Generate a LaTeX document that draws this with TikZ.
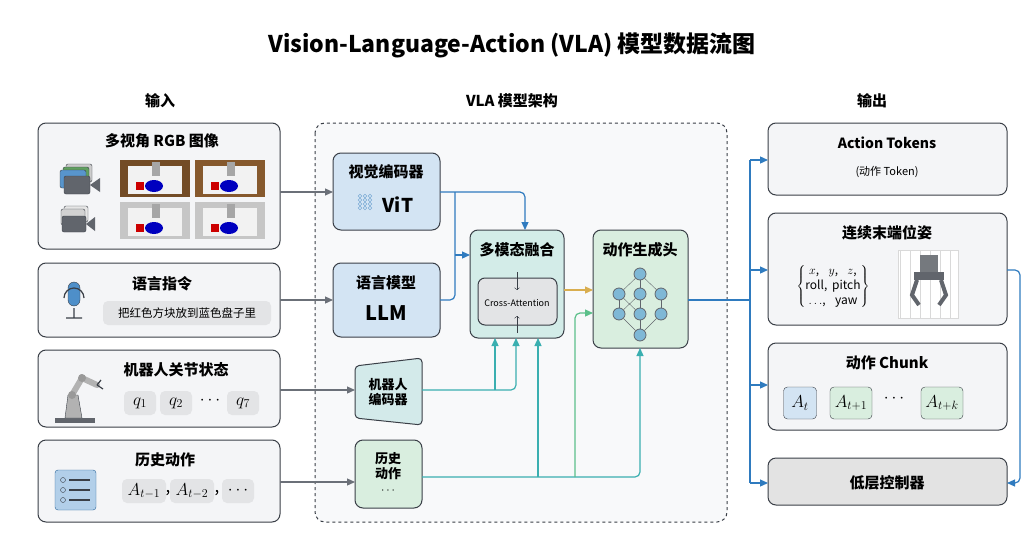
\documentclass[tikz,border=0pt]{standalone}
\usepackage{fontspec}
\setmainfont{Noto Sans CJK SC}
\usetikzlibrary{arrows.meta,calc,shapes.geometric}
\definecolor{bd}{HTML}{3A3F47}
\definecolor{panel}{HTML}{F4F5F7}
\definecolor{bluef}{HTML}{D3E4F3}
\definecolor{greenf}{HTML}{D9EEDF}
\definecolor{tealf}{HTML}{D3ECE8}
\definecolor{pill}{HTML}{E3E4E6}
\definecolor{arb}{HTML}{2F7BBF}
\definecolor{art}{HTML}{3AAFB0}
\definecolor{arg}{HTML}{5CC08A}
\definecolor{argr}{HTML}{6B7078}
\definecolor{gold}{HTML}{D9AE4F}
\definecolor{nnb}{HTML}{7FB8D6}
\begin{document}
\begin{tikzpicture}[x=1pt,y=-1pt,
 box/.style={draw=bd,line width=1pt,rounded corners=8pt,fill=panel},
 bbox/.style={draw=bd,line width=1pt,rounded corners=8pt,fill=bluef},
 gbox/.style={draw=bd,line width=1pt,rounded corners=8pt,fill=greenf},
 pl/.style={fill=pill,rounded corners=5pt,inner sep=3pt,minimum height=24pt},
 mth/.style={font=\fontsize{17}{20}\selectfont},
 ttl/.style={font=\fontsize{15}{18}\selectfont\bfseries},
 grr/.style={draw=argr,line width=1.2pt,-{Triangle[length=8pt,width=7pt]}},
 bl/.style={draw=arb,line width=1.2pt,rounded corners=5pt},
 bla/.style={bl,-{Triangle[length=8pt,width=7pt]}},
 tl/.style={draw=art,line width=1.2pt,rounded corners=5pt},
 gl/.style={draw=arg,line width=1.2pt,rounded corners=5pt},
 ar/.style={-{Triangle[length=8pt,width=7pt]}},
 nn/.style={circle,draw=bd!80,fill=nnb,minimum size=12pt,inner sep=0pt,line width=0.8pt}]
\useasboundingbox[fill=white] (0,0) rectangle (1024,559);
\node[font=\fontsize{23}{27}\selectfont\bfseries] (title) at (512,45) {Vision-Language-Action (VLA) 模型数据流图};
\node[ttl] (h1) at (160,101) {输入};
\node[ttl] (h2) at (512,101) {VLA 模型架构};
\node[ttl] (h3) at (872,101) {输出};
% container
\draw[dashed,line width=1pt,draw=bd,rounded corners=10pt,fill=panel!60] (315,123) rectangle (727,522);
% input boxes
\draw[box] (38,123) rectangle (280,249);
\node[ttl] (t1) at (162,141) {多视角 RGB 图像};
\draw[box] (38,263) rectangle (280,337);
\node[ttl] (t2) at (162,284) {语言指令};
\node[pl,font=\fontsize{11.5}{13}\selectfont,minimum width=168pt] (p2) at (187,313) {把红色方块放到蓝色盘子里};
\draw[box] (38,350) rectangle (280,427);
\node[ttl] (t3) at (176,370) {机器人关节状态};
\node[pl,mth,minimum width=32pt] (q1) at (140,403) {$q_1$};
\node[pl,mth,minimum width=32pt] (q2) at (176,403) {$q_2$};
\node[mth] (qd) at (210,401) {$\cdots$};
\node[pl,mth,minimum width=32pt] (q7) at (243,403) {$q_7$};
\draw[box] (38,440) rectangle (280,522);
\node[ttl] (t4) at (165,460) {历史动作};
\node[pl,mth,minimum width=44pt] (a1) at (144,491) {$A_{t-1}$};
\node[mth] (c1) at (168,493) {,};
\node[pl,mth,minimum width=44pt] (a2) at (192,491) {$A_{t-2}$};
\node[mth] (c2) at (217,493) {,};
\node[pl,mth,minimum width=32pt] (a3) at (238,491) {$\cdots$};
% images
\foreach \x/\y/\c in {120/160/brown!60!black,195/160/brown!70!black,120/202/gray!45,195/202/gray!45}{
 \fill[\c] (\x,\y) rectangle ++(70,37);
 \fill[white!90!gray] (\x+8,\y+6) rectangle ++(54,28);
 \fill[red!80!black] (\x+16,\y+22) rectangle ++(8,8);
 \fill[blue!75!black] (\x+34,\y+26) ellipse (9pt and 6pt);
 \fill[gray!70] (\x+32,\y+2) rectangle ++(8,14);}
% cameras
\foreach \dy/\cc in {-6/gray!40,-3/green!25!gray,0/arb!80}{\fill[\cc,draw=bd,rounded corners=2pt] (60+\dy*-1,170+\dy) rectangle ++(26,18);}
\fill[bd!80,draw=bd,rounded corners=2pt] (64,176) rectangle ++(26,18);
\fill[bd!80] (90,185) -- (100,178) -- (100,192) -- cycle;
\foreach \dy/\cc in {-6/gray!20,-3/gray!35}{\fill[\cc,draw=bd,rounded corners=2pt] (58-\dy,212+\dy) rectangle ++(24,16);}
\fill[bd!80,draw=bd,rounded corners=2pt] (62,216) rectangle ++(24,16);
\fill[bd!80] (86,224) -- (95,217) -- (95,231) -- cycle;
% mic
\fill[arb!85,draw=bd,rounded corners=6pt] (68,282) rectangle (80,306);
\draw[bd,line width=1.2pt] (64,298) arc[start angle=180,end angle=360,radius=10] (74,308) -- (74,318) (66,318) -- (82,318);
% robot arm
\fill[bd!80] (55,418) rectangle (95,423);
\fill[gray!60,draw=bd] (65,418) -- (68,395) -- (78,395) -- (82,418) -- cycle;
\draw[gray!60,line width=6pt,line cap=round] (72,395) -- (82,378) -- (97,385);
\fill[gray!80] (72,395) circle (4pt) (82,378) circle (4pt);
\draw[bd,line width=1.2pt] (97,385) -- (101,380) (97,385) -- (103,389);
% list icon
\fill[bluef!80!arb,draw=arb!80!black,rounded corners=3pt] (55,470) rectangle (96,510);
\foreach \yy in {480,490,500}{\draw[bd] (63,\yy) circle (2.5pt); \draw[bd,line width=1.2pt] (69,\yy) -- (90,\yy);}
% encoders
\draw[bbox] (333,153) rectangle (440,230);
\node[ttl] (v1) at (386,172) {视觉编码器};
\node[font=\fontsize{19}{22}\selectfont\bfseries] (vit) at (398,205) {ViT};
\foreach \i in {0,1,2}{\foreach \j in {0,1,2,3}{\draw[arb!70,fill=arb!25] (360+\i*5,196+\j*4) circle (1.8pt);}}
\draw[bbox] (333,263) rectangle (440,337);
\node[ttl] (l1) at (386,283) {语言模型};
\node[font=\fontsize{20}{24}\selectfont\bfseries] (llm) at (386,313) {LLM};
\draw[draw=bd,line width=1pt,fill=tealf!80!bluef,rounded corners=4pt] (355,366) -- (422,358) -- (422,425) -- (355,418) -- cycle;
\node[font=\fontsize{13}{15}\selectfont\bfseries,align=center] (re) at (388,392) {机器人\\编码器};
\draw[gbox] (355,440) rectangle (422,508);
\node[font=\fontsize{13}{15}\selectfont\bfseries,align=center] (hb) at (388,473) {历史\\动作\\$\cdots$};
% fusion
\draw[draw=bd,line width=1pt,rounded corners=8pt,fill=tealf] (470,230) rectangle (564,338);
\node[ttl] (fu) at (517,250) {多模态融合};
\draw[draw=bd,line width=1pt,rounded corners=7pt,fill=pill] (478,278) rectangle (557,325);
\node[font=\fontsize{9}{11}\selectfont] (ca) at (517,303) {Cross-Attention};
\draw[->,bd] (517,272) -- (517,290);
\draw[->,bd] (517,333) -- (517,316);
% action head
\draw[gbox] (593,230) rectangle (688,348);
\node[ttl] (ah) at (640,250) {动作生成头};
\node[nn] (n0) at (640,274) {};
\node[nn] (n1) at (619,294) {};\node[nn] (n2) at (640,294) {};\node[nn] (n3) at (661,294) {};
\node[nn] (n4) at (619,314) {};\node[nn] (n5) at (640,314) {};\node[nn] (n6) at (661,314) {};
\node[nn] (n7) at (640,335) {};
\foreach \a/\b in {n0/n1,n0/n2,n0/n3,n1/n4,n2/n5,n3/n6,n1/n5,n2/n4,n4/n7,n5/n7,n6/n7}{\draw[bd!80] (\a) -- (\b);}
% output boxes
\draw[box] (768,123) rectangle (1007,195);
\node[font=\fontsize{14}{17}\selectfont\bfseries] (o1) at (887,143) {Action Tokens};
\node[font=\fontsize{11}{13}\selectfont] (o1b) at (887,172) {(动作 Token)};
\draw[box] (768,213) rectangle (1007,325);
\node[ttl] (o2) at (887,233) {连续末端位姿};
\node[font=\fontsize{12}{15}\selectfont,inner sep=0pt] (br) at (833,286) {$\left\{\begin{tabular}{@{}c@{}}$x$,\;\; $y$,\;\; $z$,\\ roll,\, pitch\\ $\ldots$,\;\; yaw\end{tabular}\right\}$};
\fill[white] (898,250) rectangle (958,318);
\draw[gray!30,step=10] (898,250) grid (958,318);
\draw[gray!30] (898,250) rectangle (958,318);
\fill[bd!70] (920,255) rectangle (938,272);
\fill[bd!80] (914,272) rectangle (944,280);
\draw[bd!80,line width=4pt] (917,280) -- (912,295) -- (919,305);
\draw[bd!80,line width=4pt] (941,280) -- (946,295) -- (939,305);
\draw[box] (768,343) rectangle (1007,430);
\node[ttl] (o3) at (887,363) {动作 Chunk};
\node[draw=bd,fill=bluef,rounded corners=4pt,minimum width=33pt,minimum height=32pt,mth] (at) at (800,403) {$A_t$};
\node[draw=bd,fill=greenf,rounded corners=4pt,minimum width=42pt,minimum height=32pt,mth,inner sep=1pt] (at1) at (851,403) {$A_{t+1}$};
\node[mth] (ad) at (894,399) {$\cdots$};
\node[draw=bd,fill=greenf,rounded corners=4pt,minimum width=42pt,minimum height=32pt,mth,inner sep=1pt] (atk) at (942,403) {$A_{t+k}$};
\draw[draw=bd,line width=1pt,rounded corners=8pt,fill=gray!22] (768,458) rectangle (1007,505);
\node[ttl] (o4) at (887,483) {低层控制器};
% connectors inputs
\draw[grr] (280,192) -- (333,192);
\draw[grr] (280,300) -- (333,300);
\draw[grr] (280,390) -- (355,390);
\draw[grr] (280,482) -- (355,482);
% vision/llm to fusion
\draw[bla] (440,192) -- (525,192) -- (525,230);
\draw[bl] (440,300) -- (455,300) -- (455,192);
\draw[bla] (455,255) -- (470,255);
% robot enc to fusion
\draw[tl,ar] (422,390) -- (516,390) -- (516,338);
\draw[tl,ar] (495,390) -- (495,338);
% history
\draw[tl,ar] (422,477) -- (640,477) -- (640,348);
\draw[tl,ar] (538,477) -- (538,338);
\draw[gl,ar] (575,477) -- (575,313) -- (593,313);
% fusion to head
\draw[draw=gold,line width=1.2pt,ar] (564,290) -- (593,290);
% outputs
\draw[bl] (688,300) -- (750,300);
\draw[bl] (750,160) -- (750,483);
\foreach \yy in {160,270,385,483}{\draw[bla] (750,\yy) -- (768,\yy);}
\draw[bla] (1007,270) -- (1020,270) -- (1020,483) -- (1007,483);
\end{tikzpicture}
\end{document}
